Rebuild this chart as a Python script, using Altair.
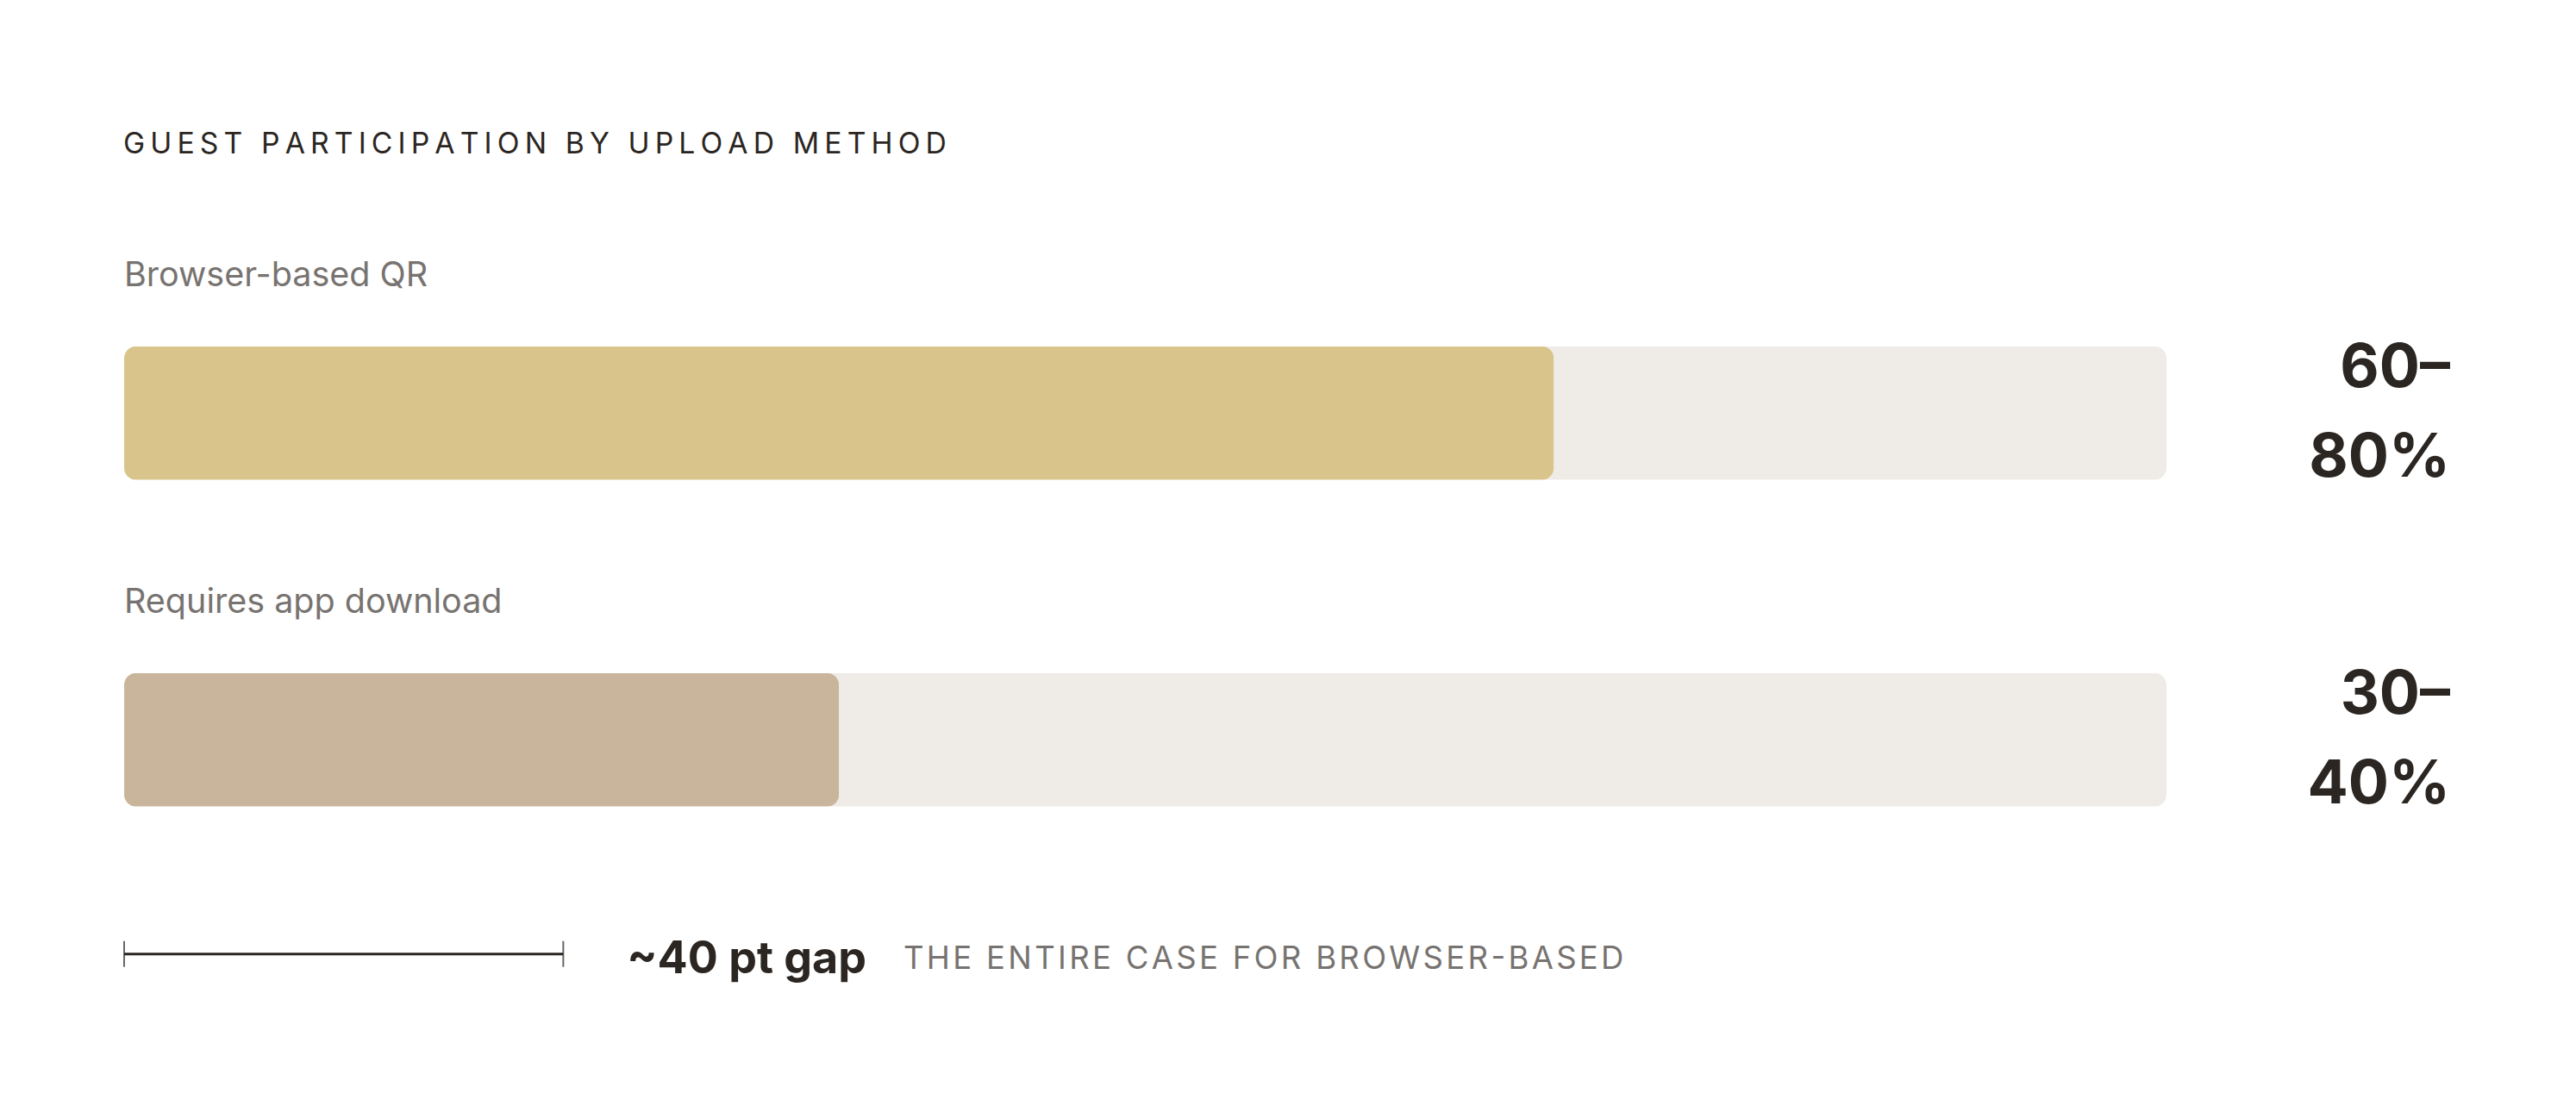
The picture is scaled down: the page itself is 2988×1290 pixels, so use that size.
import altair as alt
import pandas as pd

# ---- data ----
categories = ["Browser-based QR", "Requires app download"]
range_low = [60, 30]
range_high = [80, 40]
fill_values = [70, 35]          # (bar length, % of track)
track_max = [100, 100]
bar_colors = ["#D9C58B", "#C9B59C"]

title_text = ["GUEST PARTICIPATION BY UPLOAD METHOD"]
gap_start = [0]
gap_end = [21.5]
gap_label = ["~40 pt gap"]
gap_note = ["THE ENTIRE CASE FOR BROWSER-BASED"]

FONT = "Inter"
DARK = "#2B2622"
GRAY = "#777370"
TRACK = "#EFEBE6"

W = 2369
H = 758


def tracked(s, sep):
    # emulate letter spacing (Vega text has no letterSpacing)
    return sep.join(list(s))


bars = pd.DataFrame({
    "cat": categories,
    "fill": fill_values,
    "track": track_max,
    "label": [f"{lo}–\n{hi}%" for lo, hi in zip(range_low, range_high)],
})

xscale = alt.Scale(domain=[0, 100], nice=False, zero=True)
yenc = alt.Y("cat:N", sort=categories, axis=None,
             scale=alt.Scale(paddingInner=0, paddingOuter=0))

base = alt.Chart(bars)

track = base.mark_bar(color=TRACK, cornerRadius=14, height=155).encode(
    y=yenc,
    x=alt.X("track:Q", scale=xscale, axis=None),
)

fill = base.mark_bar(cornerRadius=14, height=155).encode(
    y=yenc,
    x=alt.X("fill:Q", scale=xscale, axis=None),
    color=alt.Color("cat:N", scale=alt.Scale(domain=categories, range=bar_colors), legend=None),
)

cat_labels = base.mark_text(
    align="left", baseline="middle", dy=-159, font=FONT, fontSize=39.5, color=GRAY
).encode(y=yenc, x=alt.value(0), text="cat:N")

value_labels = base.mark_text(
    align="right", baseline="middle", dy=-51, font=FONT, fontSize=70, fontWeight="bold",
    color=DARK, lineBreak="\n", lineHeight=104
).encode(y=yenc, x=alt.value(W + 329), text="label:N")

title = alt.Chart(pd.DataFrame({"t": [tracked(t, "\u2009") for t in title_text]})).mark_text(
    align="left", baseline="middle", font=FONT, fontSize=33.7, color=DARK
).encode(x=alt.value(-1), y=alt.value(-122), text="t:N")

gap_df = pd.DataFrame({"s": gap_start, "e": gap_end, "lab": gap_label,
                       "note": [tracked(t, "\u200a") for t in gap_note]})
gap_base = alt.Chart(gap_df)

gap_rule = gap_base.mark_rule(color=DARK, strokeWidth=3).encode(
    x=alt.X("s:Q", scale=xscale, axis=None), x2="e:Q", y=alt.value(817)
)
gap_tick_s = gap_base.mark_tick(color=DARK, thickness=2, size=30, orient="vertical").encode(
    x=alt.X("s:Q", scale=xscale, axis=None), y=alt.value(817)
)
gap_tick_e = gap_base.mark_tick(color=DARK, thickness=2, size=30, orient="vertical").encode(
    x=alt.X("e:Q", scale=xscale, axis=None), y=alt.value(817)
)
gap_text = gap_base.mark_text(
    align="left", baseline="middle", dx=74, dy=6, font=FONT, fontSize=52,
    fontWeight="bold", color=DARK
).encode(x=alt.X("e:Q", scale=xscale, axis=None), y=alt.value(817), text="lab:N")
gap_note_text = gap_base.mark_text(
    align="left", baseline="middle", dy=6, font=FONT, fontSize=36.5, color=GRAY
).encode(x=alt.value(904), y=alt.value(817), text="note:N")

chart = alt.layer(
    track, fill, cat_labels, value_labels, title,
    gap_rule, gap_tick_s, gap_tick_e, gap_text, gap_note_text
).properties(
    width=W, height=H,
    autosize=alt.AutoSizeParams(type="none"),
    padding={"left": 136, "top": 281.7, "right": 467, "bottom": 234},
    background="#FFFFFF",
).configure_view(stroke=None)

chart.save("out.html", embed_options={"renderer": "svg", "actions": False})
